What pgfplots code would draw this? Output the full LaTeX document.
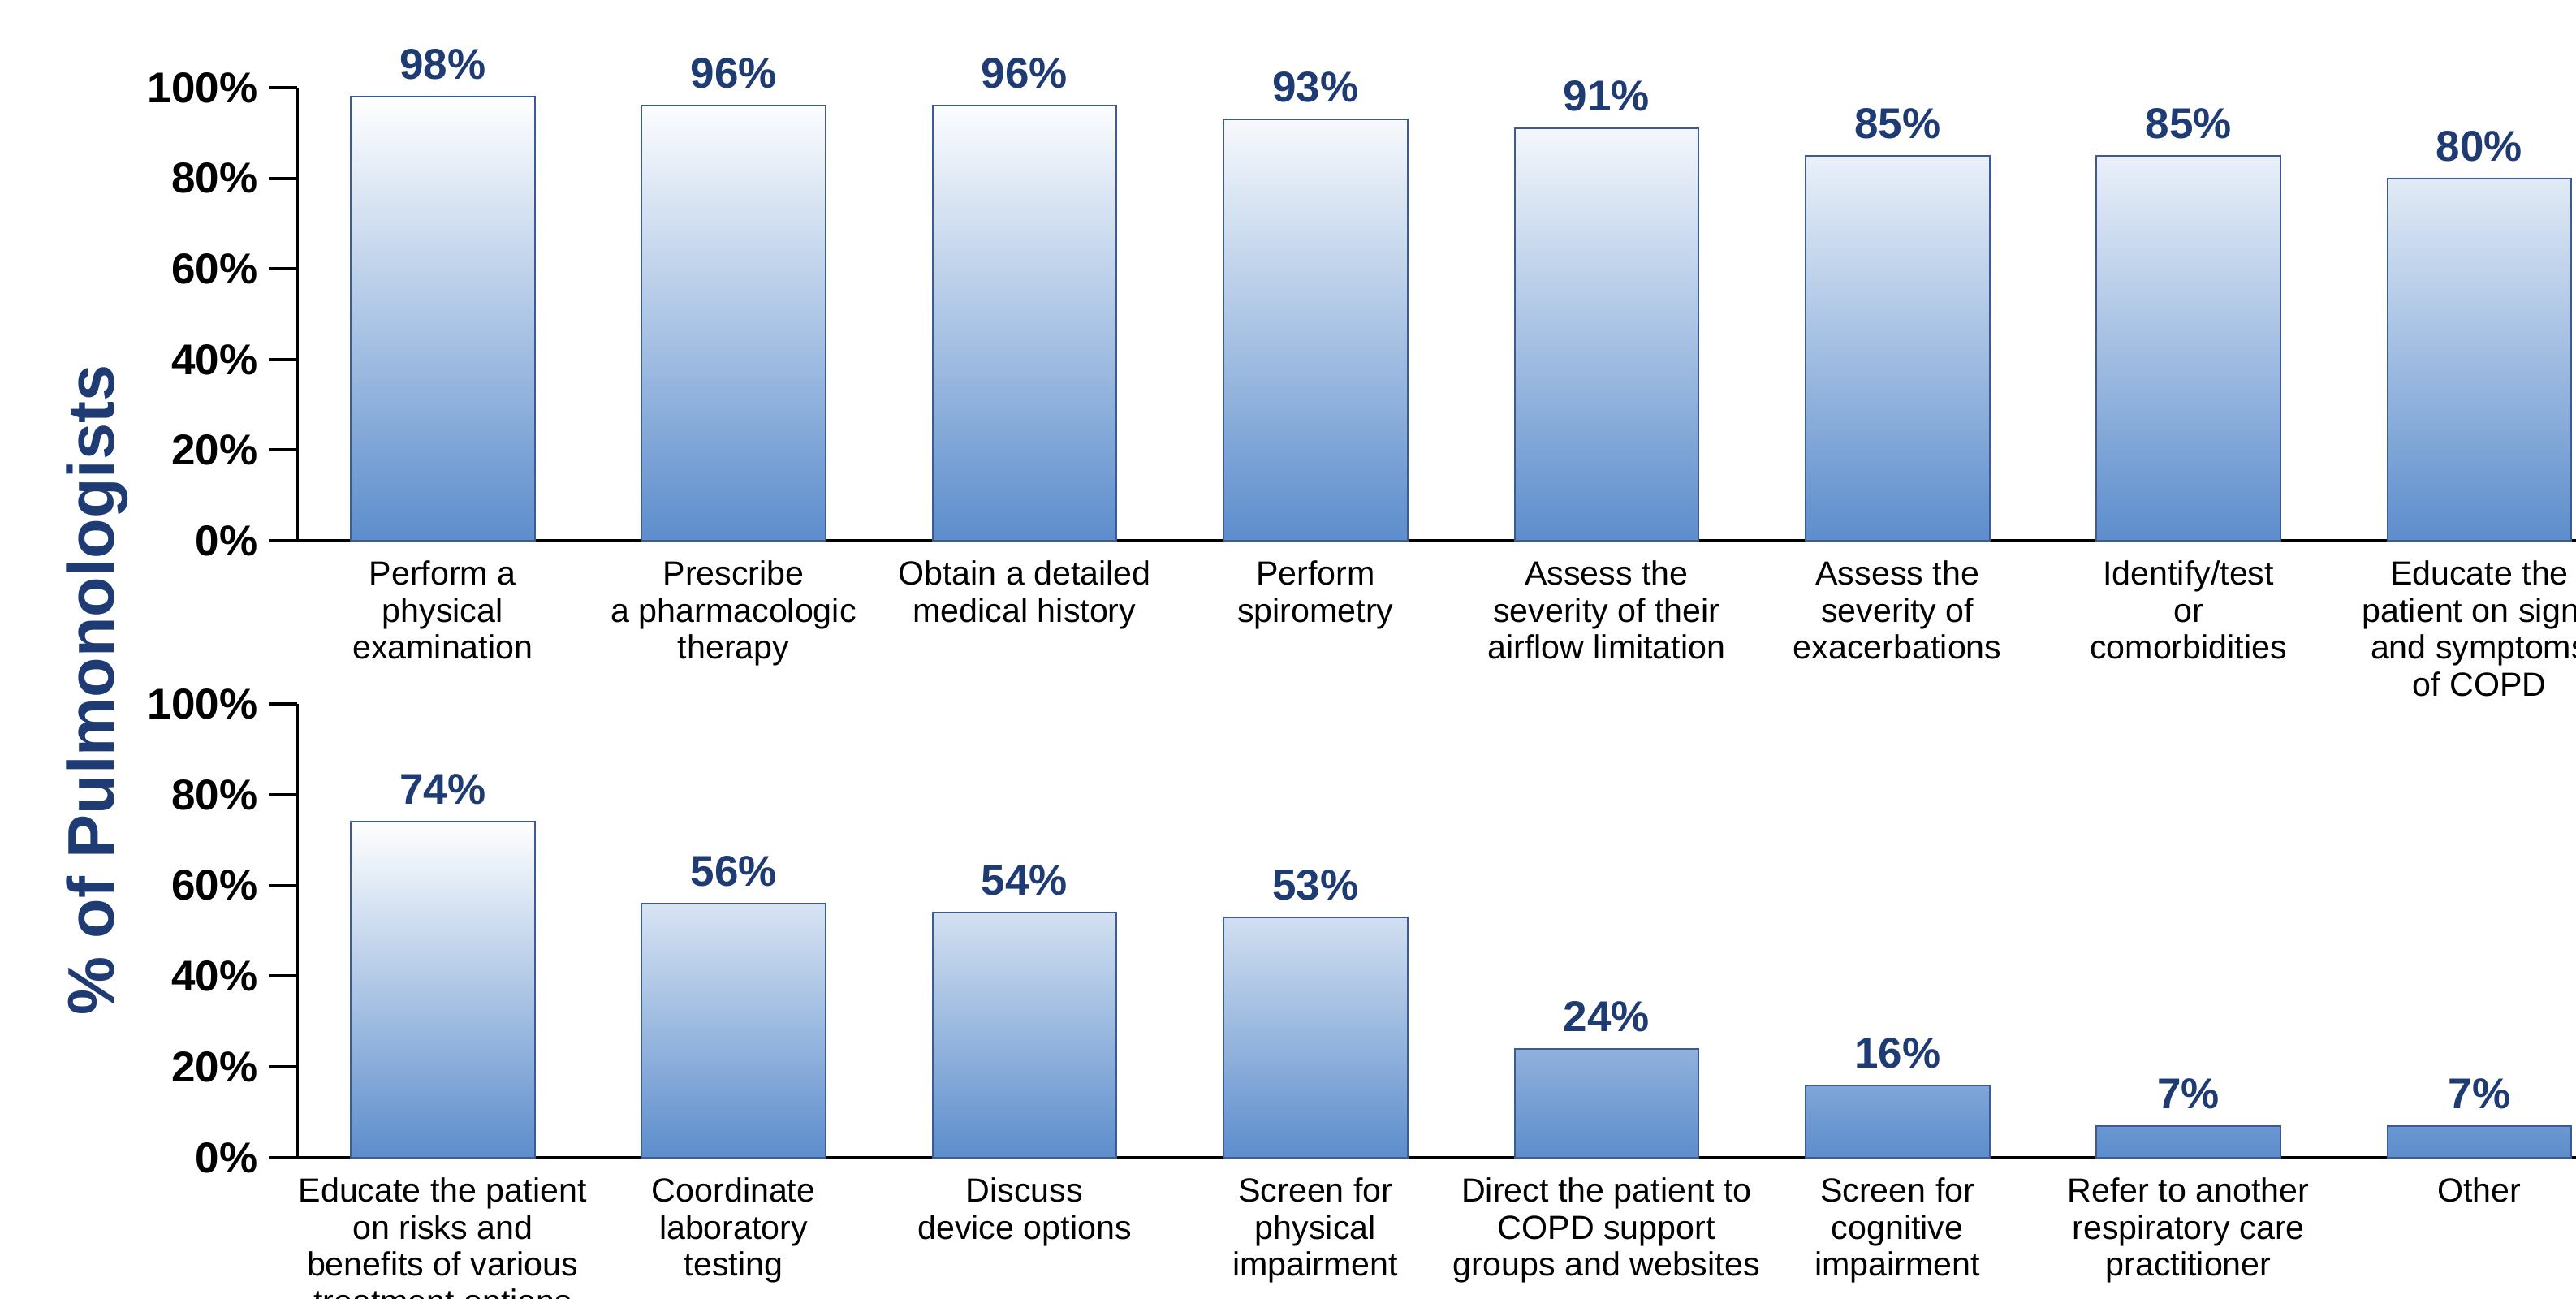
\documentclass[border=0pt]{standalone}
\usepackage{pgfplots}
\pgfplotsset{compat=1.18}
\usepackage{fontspec}
\setmainfont{Liberation Sans}
\definecolor{barblue}{RGB}{92,141,204}
\definecolor{baredge}{RGB}{60,90,150}
\definecolor{labblue}{RGB}{31,59,115}
\pgfplotsset{
  mybar/.style={ybar, bar width=56.65pt, bar shift=0pt, draw=baredge, line width=0.5pt, bottom color=barblue},
  myaxis/.style={
    scale only axis,
    width=716.8pt,
    xmin=-0.5, xmax=7.5,
    ymin=0, ymax=100,
    axis x line=bottom, axis y line=left,
    axis line style={-, line width=1pt, black},
    ytick={0,20,40,60,80,100},
    yticklabel={\pgfmathprintnumber{\tick}\%},
    /pgf/number format/assume math mode=true,
    tick align=outside,
    major tick length=8.75pt,
    ytick style={line width=1pt, black},
    xtick style={draw=none},
    xtick={0,1,2,3,4,5,6,7},
    yticklabel style={font=\fontsize{13.25}{15}\selectfont\bfseries, inner sep=0pt, anchor=east, xshift=-3.25pt},
    xticklabel style={font=\fontsize{10.3}{11.4}\selectfont, align=center, anchor=north, inner sep=0pt, yshift=2.75pt},
    nodes near coords={\pgfmathprintnumber{\pgfplotspointmeta}\%},
    every node near coord/.append style={font=\fontsize{13.25}{15}\selectfont\bfseries, text=labblue, anchor=south, inner sep=0pt, yshift=5pt},
    clip=false,
  }
}
\begin{document}
\begin{tikzpicture}
\useasboundingbox (0,0) rectangle (793.25pt,399.75pt);
\clip (0,0) rectangle (793.25pt,399.75pt);
\begin{axis}[myaxis, at={(91.5pt,233.25pt)}, anchor=south west, height=139.5pt,
  xticklabels={{Perform a\\physical\\examination},{Prescribe\\a pharmacologic\\therapy},{Obtain a detailed\\medical history},{Perform\\spirometry},{Assess the\\severity of their\\airflow limitation},{Assess the\\severity of\\exacerbations},{Identify/test\\or\\comorbidities},{Educate the\\patient on signs\\and symptoms\\of COPD}}]
\addplot[mybar, top color=barblue!0!white] coordinates {(0,98)};
\addplot[mybar, top color=barblue!2!white] coordinates {(1,96)};
\addplot[mybar, top color=barblue!2!white] coordinates {(2,96)};
\addplot[mybar, top color=barblue!5!white] coordinates {(3,93)};
\addplot[mybar, top color=barblue!7!white] coordinates {(4,91)};
\addplot[mybar, top color=barblue!13!white] coordinates {(5,85)};
\addplot[mybar, top color=barblue!13!white] coordinates {(6,85)};
\addplot[mybar, top color=barblue!18!white] coordinates {(7,80)};
\end{axis}
\begin{axis}[myaxis, at={(91.5pt,43.25pt)}, anchor=south west, height=139.75pt,
  xticklabels={{Educate the patient\\on risks and\\benefits of various\\treatment options},{Coordinate\\laboratory\\testing},{Discuss\\device options},{Screen for\\physical\\impairment},{Direct the patient to\\COPD support\\groups and websites},{Screen for\\cognitive\\impairment},{Refer to another\\respiratory care\\practitioner},{Other}}]
\addplot[mybar, top color=barblue!0!white] coordinates {(0,74)};
\addplot[mybar, top color=barblue!24!white] coordinates {(1,56)};
\addplot[mybar, top color=barblue!27!white] coordinates {(2,54)};
\addplot[mybar, top color=barblue!28!white] coordinates {(3,53)};
\addplot[mybar, top color=barblue!68!white] coordinates {(4,24)};
\addplot[mybar, top color=barblue!78!white] coordinates {(5,16)};
\addplot[mybar, top color=barblue!91!white] coordinates {(6,7)};
\addplot[mybar, top color=barblue!91!white] coordinates {(7,7)};
\end{axis}
\node[rotate=90, anchor=base, inner sep=0pt, text=labblue, font=\fontsize{20.25}{24}\selectfont\bfseries] at (35pt,187.25pt) {\% of Pulmonologists};
\end{tikzpicture}
\end{document}
